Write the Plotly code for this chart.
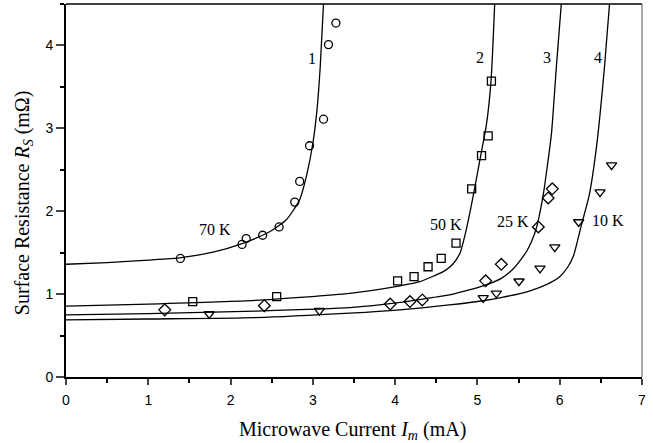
import plotly.graph_objects as go

circ_x = [1.39, 2.14, 2.19, 2.39, 2.59, 2.78, 2.84, 2.96, 3.13, 3.19, 3.28]
circ_y = [1.43, 1.60, 1.67, 1.71, 1.81, 2.11, 2.36, 2.79, 3.11, 4.01, 4.27]

sq_x = [1.54, 2.56, 4.03, 4.23, 4.40, 4.56, 4.74, 4.93, 5.05, 5.13, 5.17]
sq_y = [0.91, 0.97, 1.16, 1.21, 1.33, 1.43, 1.615, 2.27, 2.67, 2.91, 3.57]

dia_x = [1.20, 2.41, 3.94, 4.18, 4.33, 5.10, 5.29, 5.74, 5.86, 5.91]
dia_y = [0.81, 0.86, 0.88, 0.91, 0.93, 1.16, 1.36, 1.81, 2.16, 2.27]

tri_x = [1.74, 3.08, 5.07, 5.23, 5.505, 5.76, 5.94, 6.23, 6.49, 6.63]
tri_y = [0.76, 0.80, 0.955, 1.01, 1.155, 1.31, 1.566, 1.87, 2.23, 2.555]

# ---- fitted curves ----
c1_x = [0.0, 0.5, 1.0, 1.4, 1.8, 2.14, 2.48, 2.68, 2.84, 2.93, 3.0, 3.05, 3.09, 3.13]
c1_y = [1.36, 1.38, 1.41, 1.44, 1.51, 1.61, 1.755, 1.90, 2.14, 2.46, 2.82, 3.22, 3.75, 4.51]

c2_x = [0.0, 1.0, 2.3, 3.45, 4.06, 4.30, 4.60, 4.70, 4.79, 4.86, 4.92, 4.97, 5.04, 5.11, 5.165, 5.21]
c2_y = [0.855, 0.88, 0.925, 1.01, 1.10, 1.15, 1.28, 1.36, 1.50, 1.76, 2.04, 2.30, 2.67, 3.05, 3.57, 4.51]

c3_x = [0.0, 1.0, 2.3, 3.45, 4.06, 4.46, 4.66, 5.07, 5.29, 5.43, 5.53, 5.60, 5.66, 5.72, 5.80, 5.85, 5.90, 5.96, 6.02]
c3_y = [0.75, 0.765, 0.795, 0.837, 0.90, 0.96, 0.99, 1.10, 1.19, 1.30, 1.42, 1.52, 1.64, 1.81, 2.20, 2.55, 2.94, 3.75, 4.51]

c4_x = [0.0, 1.0, 2.3, 3.45, 4.06, 4.66, 5.07, 5.30, 5.64, 5.85, 6.00, 6.10, 6.17, 6.26, 6.36, 6.45, 6.545, 6.606]
c4_y = [0.69, 0.70, 0.716, 0.77, 0.81, 0.87, 0.92, 0.96, 1.04, 1.12, 1.21, 1.33, 1.47, 1.82, 2.20, 2.80, 3.75, 4.51]

curve_labels = ["1", "2", "3", "4"]
curve_label_x = [2.985, 5.03, 5.84, 6.46]
curve_label_y = [3.84, 3.85, 3.85, 3.86]

temp_labels = ["70 K", "50 K", "25 K", "10 K"]
temp_label_x = [1.81, 4.62, 5.43, 6.585]
temp_label_y = [1.775, 1.84, 1.88, 1.89]

x_ticks = [0, 1, 2, 3, 4, 5, 6, 7]
y_ticks = [0, 1, 2, 3, 4]

fig = go.Figure()

for cx, cy in [(c1_x, c1_y), (c2_x, c2_y), (c3_x, c3_y), (c4_x, c4_y)]:
    fig.add_trace(go.Scatter(x=cx, y=cy, mode="lines",
                             line=dict(color="black", width=1.3, shape="spline", smoothing=0.6),
                             showlegend=False, hoverinfo="skip"))

for px, py, sym, sz in [(circ_x, circ_y, "circle-open", 8),
                        (sq_x, sq_y, "square-open", 8),
                        (dia_x, dia_y, "diamond-open", 9),
                        (tri_x, tri_y, "triangle-down-open", 9)]:
    fig.add_trace(go.Scatter(x=px, y=py, mode="markers",
                             marker=dict(symbol=sym, size=sz, color="black",
                                         line=dict(color="black", width=1.3)),
                             showlegend=False))

serif = "Liberation Serif, Times New Roman, serif"
sans = "Liberation Sans, Arial, sans-serif"

for t, x, y in zip(curve_labels, curve_label_x, curve_label_y):
    fig.add_annotation(x=x, y=y, text=t, showarrow=False,
                       font=dict(family=serif, size=16, color="black"))
for t, x, y in zip(temp_labels, temp_label_x, temp_label_y):
    fig.add_annotation(x=x, y=y, text=t, showarrow=False,
                       font=dict(family=serif, size=16, color="black"))

fig.add_annotation(xref="paper", yref="paper", x=0.498, y=0, yshift=-53,
                   xanchor="center", yanchor="middle",
                   text="Microwave Current <i>I</i><sub><i>m</i></sub> (mA)",
                   showarrow=False, font=dict(family=serif, size=20, color="black"))
fig.add_annotation(xref="paper", yref="paper", x=0, y=0.466, xshift=-43,
                   xanchor="center", yanchor="middle",
                   text="Surface Resistance <i>R</i><sub><i>S</i></sub> (m\u03a9)",
                   textangle=-90, showarrow=False,
                   font=dict(family=serif, size=20, color="black"))

# frame: top and right thin lines
fig.add_shape(type="line", xref="paper", yref="paper", x0=0, x1=1, y0=1, y1=1,
              line=dict(color="black", width=1.5))
fig.add_shape(type="line", xref="paper", yref="paper", x0=1, x1=1, y0=0, y1=1,
              line=dict(color="#555555", width=1))

fig.update_xaxes(range=[0, 7], tickvals=x_ticks, ticks="outside", ticklen=6, tickwidth=1.5,
                 showline=True, linecolor="black", linewidth=2, showgrid=False, zeroline=False,
                 tickfont=dict(family=sans, size=14, color="black"), ticklabelstandoff=3,
                 minor=dict(ticks="outside", ticklen=4, tickwidth=1.5, dtick=0.5, tick0=0,
                            tickcolor="black", showgrid=False))
fig.update_yaxes(range=[0, 4.5], tickvals=y_ticks, ticks="outside", ticklen=8, tickwidth=1.5,
                 showline=True, linecolor="black", linewidth=2, showgrid=False, zeroline=False,
                 tickfont=dict(family=sans, size=14, color="black"),
                 minor=dict(ticks="outside", ticklen=4, tickwidth=1.5, dtick=0.5, tick0=0,
                            tickcolor="black", showgrid=False))

fig.update_layout(width=653, height=443, margin=dict(l=66, r=11, t=4, b=66),
                  plot_bgcolor="white", paper_bgcolor="white")

fig.write_html("out.html")
